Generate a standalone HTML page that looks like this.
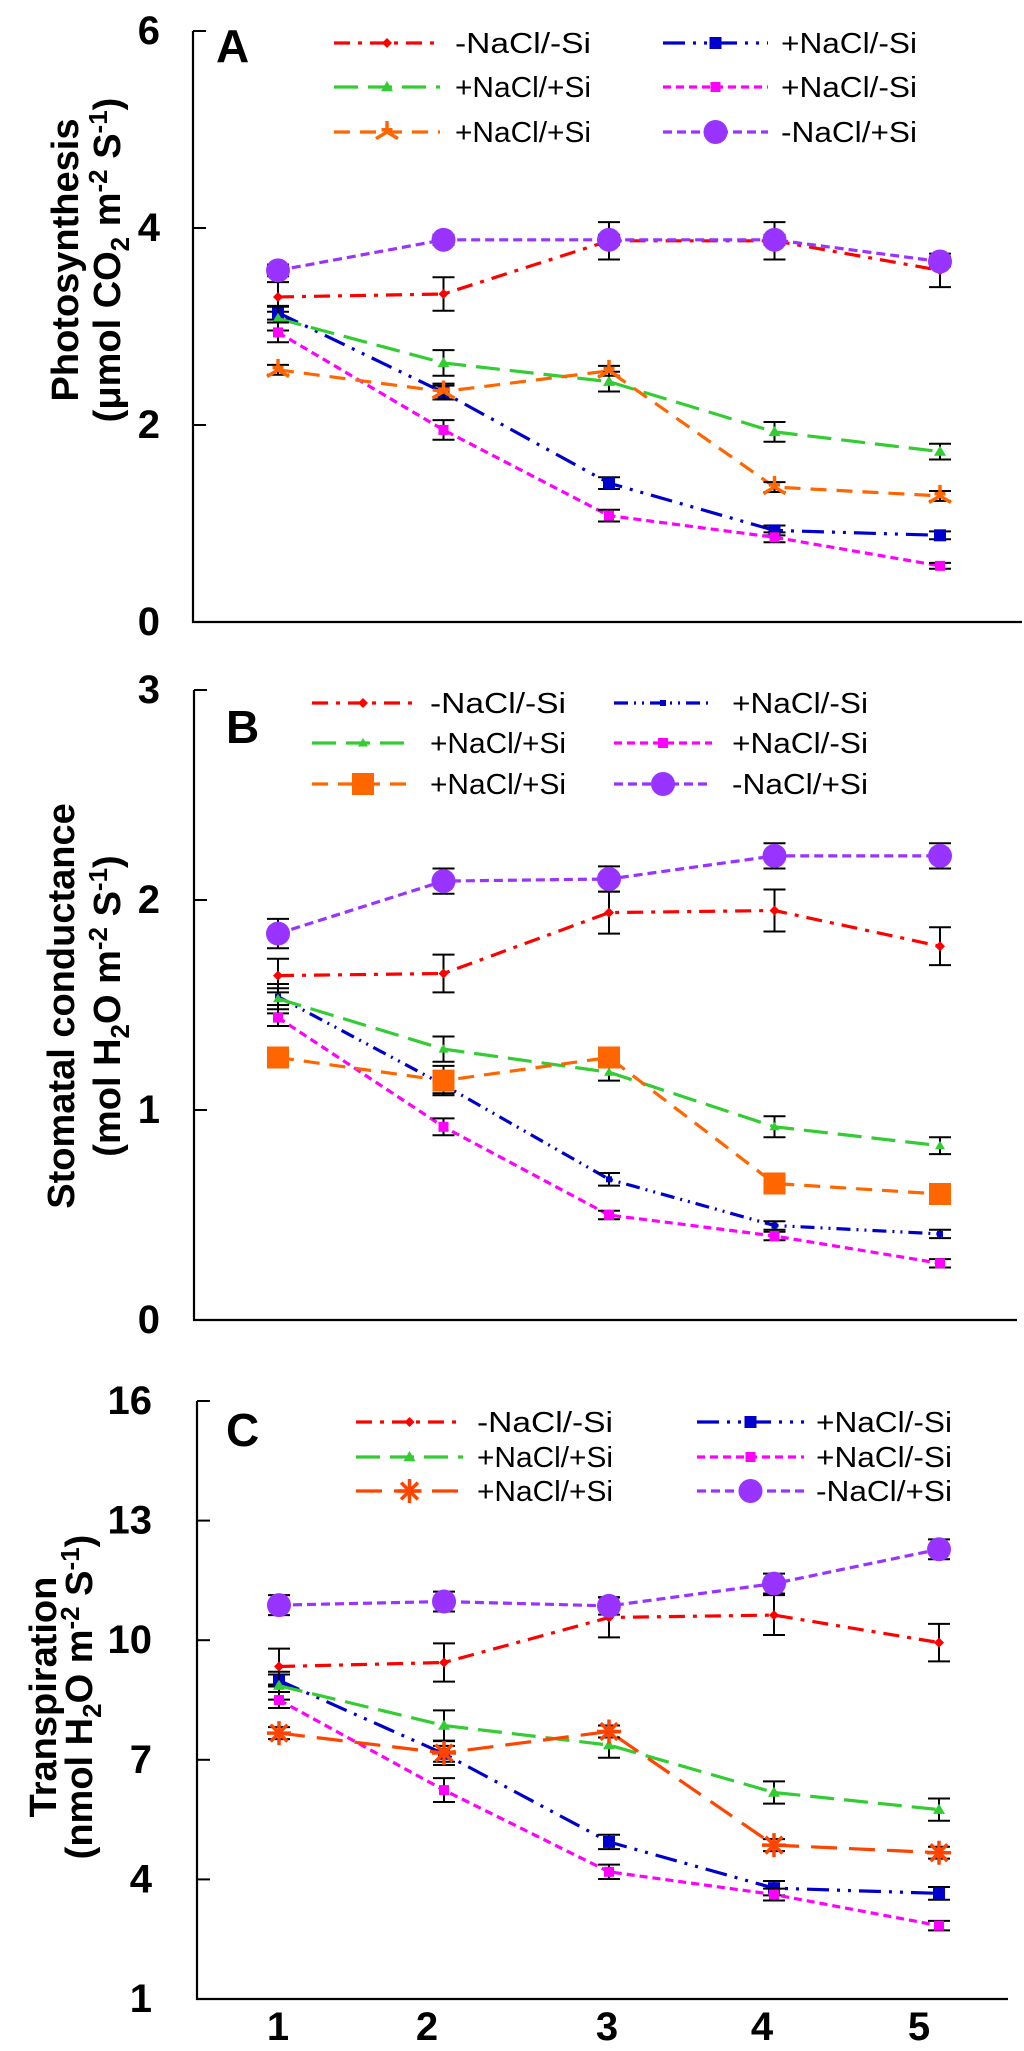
<!DOCTYPE html>
<html><head><meta charset="utf-8"><style>
html,body{margin:0;padding:0;background:#fff}
svg{display:block}
text{font-family:"Liberation Sans",Arial,sans-serif}
</style></head><body>
<svg id="chart" width="1024" height="2051" viewBox="0 0 1024 2051" xmlns="http://www.w3.org/2000/svg"></svg>
<script>
const categories = [1, 2, 3, 4, 5];
const seriesNames = ["-NaCl/-Si", "+NaCl/-Si", "+NaCl/+Si", "+NaCl/-Si", "+NaCl/+Si", "-NaCl/+Si"];
// Panel A: photosynthesis
const aRed = [3.30, 3.33, 3.87, 3.87, 3.57];
const aBlue = [3.14, 2.33, 1.41, 0.93, 0.88];
const aGreen = [3.08, 2.63, 2.44, 1.93, 1.73];
const aMagenta = [2.94, 1.95, 1.08, 0.86, 0.57];
const aOrange = [2.56, 2.34, 2.55, 1.37, 1.28];
const aPurple = [3.57, 3.88, 3.88, 3.88, 3.66];
const aErrRed = [0.15, 0.17, 0.19, 0.19, 0.17];
const aErrBlue = [0.07, 0.07, 0.06, 0.05, 0.04];
const aErrGreen = [0.12, 0.13, 0.10, 0.10, 0.08];
const aErrMagenta = [0.10, 0.10, 0.06, 0.05, 0.03];
const aErrOrange = [0.05, 0.08, 0.05, 0.05, 0.05];
const aErrPurple = [0.06, 0.05, 0.05, 0.05, 0.05];
const aTicks = [0, 2, 4, 6];
// Panel B: stomatal conductance
const bRed = [1.64, 1.65, 1.94, 1.95, 1.78];
const bBlue = [1.54, 1.12, 0.67, 0.45, 0.41];
const bGreen = [1.53, 1.29, 1.18, 0.92, 0.83];
const bMagenta = [1.44, 0.92, 0.50, 0.40, 0.27];
const bOrange = [1.25, 1.14, 1.25, 0.65, 0.60];
const bPurple = [1.84, 2.09, 2.10, 2.21, 2.21];
const bErrRed = [0.08, 0.09, 0.10, 0.10, 0.09];
const bErrBlue = [0.04, 0.04, 0.03, 0.02, 0.02];
const bErrGreen = [0.07, 0.06, 0.04, 0.05, 0.04];
const bErrMagenta = [0.04, 0.04, 0.02, 0.02, 0.02];
const bErrOrange = [0.03, 0.07, 0.03, 0.03, 0.03];
const bErrPurple = [0.07, 0.06, 0.06, 0.06, 0.06];
const bTicks = [0, 1, 2, 3];
// Panel C: transpiration
const cRed = [9.34, 9.44, 10.57, 10.63, 9.94];
const cBlue = [8.99, 7.15, 4.94, 3.78, 3.65];
const cGreen = [8.86, 7.86, 7.37, 6.18, 5.75];
const cMagenta = [8.50, 6.24, 4.19, 3.62, 2.84];
const cOrange = [7.67, 7.17, 7.71, 4.86, 4.67];
const cPurple = [10.88, 10.97, 10.86, 11.42, 12.28];
const cErrRed = [0.45, 0.48, 0.50, 0.50, 0.47];
const cErrBlue = [0.15, 0.20, 0.18, 0.18, 0.16];
const cErrGreen = [0.35, 0.38, 0.32, 0.28, 0.28];
const cErrMagenta = [0.2, 0.3, 0.18, 0.15, 0.12];
const cErrOrange = [0.15, 0.3, 0.15, 0.15, 0.15];
const cErrPurple = [0.25, 0.25, 0.22, 0.25, 0.25];
const cTicks = [1, 4, 7, 10, 13, 16];

const NS = "http://www.w3.org/2000/svg";
const svg = document.getElementById("chart");
function mk(tag, attrs, parent) {
  const e = document.createElementNS(NS, tag);
  for (const k in attrs) e.setAttribute(k, attrs[k]);
  (parent || svg).appendChild(e);
  return e;
}
const styles = [
  {color:"#ff0000", dash:"16 8 4 8", marker:"diamond", ms:5},
  {color:"#0000cc", dash:"22 8 3 8 3 8", marker:"square", ms:6},
  {color:"#33cc33", dash:"24 10", marker:"triangle", ms:6},
  {color:"#ff00ff", dash:"8 5", marker:"x", ms:5},
  {color:"#ff6600", dash:"16 10", marker:"star", ms:10},
  {color:"#9933ff", dash:"9 5", marker:"circle", ms:10}
];
function marker(g, type, cx, cy, s, color) {
  if (type === "circle") { const c = mk("circle", {cx, cy, r:s, fill:color}, g); return c; }
  if (type === "square") return mk("rect", {x:cx-s, y:cy-s, width:2*s, height:2*s, fill:color}, g);
  if (type === "bigsquare") return mk("rect", {x:cx-s, y:cy-s, width:2*s, height:2*s, fill:color}, g);
  if (type === "diamond") return mk("polygon", {points:`${cx},${cy-s} ${cx+s},${cy} ${cx},${cy+s} ${cx-s},${cy}`, fill:color}, g);
  if (type === "triangle") return mk("polygon", {points:`${cx},${cy-s} ${cx+s},${cy+s*0.7} ${cx-s},${cy+s*0.7}`, fill:color}, g);
  if (type === "x") return mk("rect", {x:cx-s, y:cy-s, width:2*s, height:2*s, fill:color}, g);
  if (type === "star") return mk("path", {d:`M${cx} ${cy-s}L${cx} ${cy}M${cx} ${cy}L${cx-s} ${cy+s*0.6}M${cx} ${cy}L${cx+s} ${cy+s*0.6}M${cx-s*0.5} ${cy-s*0.2}L${cx+s*0.5} ${cy-s*0.2}`, stroke:color, "stroke-width":3.5, fill:"none"}, g);
  if (type === "asterisk") return mk("path", {d:`M${cx-s} ${cy}L${cx+s} ${cy}M${cx-s*0.7} ${cy-s*0.7}L${cx+s*0.7} ${cy+s*0.7}M${cx+s*0.7} ${cy-s*0.7}L${cx-s*0.7} ${cy+s*0.7}M${cx} ${cy-s}L${cx} ${cy+s}`, stroke:color, "stroke-width":3.5, fill:"none"}, g);
}

function panel(cfg) {
  const g = mk("g", {});
  
  
  const xScale = c => cfg.x1 + (c - 1) * cfg.dx;
  const yScale = v => cfg.y0 + (v - cfg.vmin) / (cfg.vmax - cfg.vmin) * (cfg.ytop - cfg.y0);
  const ax = mk("path", {d:`M${cfg.ax} ${cfg.ytop}V${cfg.y0}H${cfg.xr}`, stroke:"#000", "stroke-width":2.2, fill:"none"}, g);
  
  
  cfg.ticks.forEach(t => {
    const y = yScale(t);
    const tk = mk("line", {x1:cfg.ax, x2:cfg.ax+13, y1:y, y2:y, stroke:"#000", "stroke-width":2}, g);
    
    
    const tl = mk("text", {x:cfg.tlx, y:y+13, "text-anchor":"end", "font-size":40, "font-weight":"bold"}, g);
    tl.textContent = t;
    
    
  });
  if (cfg.xlabels) {
    cfg.xlabelX.forEach((x, i) => {
      const t = mk("text", {x, y:2040, "text-anchor":"middle", "font-size":40, "font-weight":"bold"}, g);
      t.textContent = categories[i];
      
      
    });
  }
  const L = mk("text", {x:cfg.lx, y:cfg.ly, "font-size":46, "font-weight":"bold"}, g);
  L.textContent = cfg.letter;
  
  
  const yt = mk("text", {transform:`translate(${cfg.t1x},${cfg.tcy}) rotate(-90)`, "text-anchor":"middle", "font-size":cfg.tfs, "font-weight":"bold"}, g);
  yt.textContent = cfg.title1;
  
  
  const yt2 = mk("text", {transform:`translate(${cfg.t2x},${cfg.tcy}) rotate(-90)`, "text-anchor":"middle", "font-size":cfg.tfs, "font-weight":"bold"}, g);
  yt2.innerHTML = cfg.title2;
  
  
  cfg.series.forEach((vals, si) => {
    const st = Object.assign({}, styles[si], (cfg.override && cfg.override[si]) || {});
    const mt = cfg.markers[si];
    const sg = mk("g", {}, g);
    
    
    const d = vals.map((v, i) => (i ? "L" : "M") + xScale(categories[i]) + " " + yScale(v)).join("");
    const ln = mk("path", {d, stroke:st.color, "stroke-width":3.2, fill:"none", "stroke-dasharray":st.dash}, sg);
    
    
    vals.forEach((v, i) => {
      const x = xScale(categories[i]);
      const e = cfg.errs[si][i];
      const yh = yScale(v + e), yl = yScale(v - e);
      const eb = mk("path", {d:`M${x} ${yh}V${yl}M${x-11} ${yh}H${x+11}M${x-11} ${yl}H${x+11}`, stroke:"#000", "stroke-width":2, fill:"none"}, sg);
      
      
    });
    vals.forEach((v, i) => {
      const m = marker(sg, mt, xScale(categories[i]), yScale(v), cfg.msz[si], st.color);
      
      
    });
  });
  const order = [[0,0,0],[1,1,0],[2,0,1],[3,1,1],[4,0,2],[5,1,2]];
  order.forEach(([si, col, row]) => {
    const st = Object.assign({}, styles[si], (cfg.override && cfg.override[si]) || {});
    const lx1 = col ? cfg.lg.rx1 : cfg.lg.lx1, lx2 = col ? cfg.lg.rx2 : cfg.lg.lx2;
    const tx = col ? cfg.lg.rtx : cfg.lg.ltx;
    const y = cfg.lg.rows[row];
    const lg = mk("g", {}, g);
    
    
    mk("line", {x1:lx1, x2:lx2, y1:y, y2:y, stroke:st.color, "stroke-width":3.2, "stroke-dasharray":st.dash}, lg);
    marker(lg, cfg.markers[si], (lx1+lx2)/2, y, cfg.msz[si], st.color);
    const t = mk("text", {x:tx, y:y+10, "font-size":29, textLength:136, lengthAdjust:"spacingAndGlyphs"}, lg);
    t.textContent = seriesNames[si];
  });
}

panel({name:"panel-a-photosynthesis", letter:"A", ax:193, xr:1022, ytop:31, y0:622, vmin:0, vmax:6, ticks:aTicks, tlx:160,
  x1:278, dx:165.5, lx:216, ly:62, t1x:78, t2x:120, tcy:260, tfs:38,
  title1:"Photosynthesis", title2:'(μmol CO<tspan dy="9" font-size="26">2</tspan><tspan dy="-9"> m</tspan><tspan dy="-13" font-size="26">-2</tspan><tspan dy="13"> S</tspan><tspan dy="-13" font-size="26">-1</tspan><tspan dy="13">)</tspan>',
  series:[aRed,aBlue,aGreen,aMagenta,aOrange,aPurple], errs:[aErrRed,aErrBlue,aErrGreen,aErrMagenta,aErrOrange,aErrPurple],
  markers:["diamond","square","triangle","x","star","circle"], msz:[5,6,6,5,11,12],
  lg:{lx1:334,lx2:440,ltx:455,rx1:663,rx2:768,rtx:781,rows:[43,87,132]}});
panel({name:"panel-b-stomatal-conductance", letter:"B", ax:194, xr:1017, ytop:690, y0:1320, vmin:0, vmax:3, ticks:bTicks, tlx:160,
  x1:278, dx:165.5, lx:226, ly:743, t1x:74, t2x:120, tcy:1006, tfs:38,
  title1:"Stomatal conductance", title2:'(mol H<tspan dy="9" font-size="26">2</tspan><tspan dy="-9">O m</tspan><tspan dy="-13" font-size="26">-2</tspan><tspan dy="13"> S</tspan><tspan dy="-13" font-size="26">-1</tspan><tspan dy="13">)</tspan>',
  series:[bRed,bBlue,bGreen,bMagenta,bOrange,bPurple], errs:[bErrRed,bErrBlue,bErrGreen,bErrMagenta,bErrOrange,bErrPurple],
  markers:["diamond","square","triangle","x","bigsquare","circle"], msz:[5,3,5,5,11,12],
  override:{1:{dash:"14 6 2 6 2 6"}},
  lg:{lx1:312,lx2:414,ltx:430,rx1:614,rx2:712,rtx:732,rows:[703,743,784]}});
panel({name:"panel-c-transpiration", letter:"C", ax:197, xr:1008, ytop:1401, y0:1999, vmin:1, vmax:16, ticks:cTicks, tlx:152,
  x1:279, dx:165, lx:226, ly:1446, t1x:56, t2x:92, tcy:1697, tfs:38, xlabels:true, xlabelX:[278,427,607,762,919],
  title1:"Transpiration", title2:'(nmol H<tspan dy="9" font-size="26">2</tspan><tspan dy="-9">O m</tspan><tspan dy="-13" font-size="26">-2</tspan><tspan dy="13"> S</tspan><tspan dy="-13" font-size="26">-1</tspan><tspan dy="13">)</tspan>',
  series:[cRed,cBlue,cGreen,cMagenta,cOrange,cPurple], errs:[cErrRed,cErrBlue,cErrGreen,cErrMagenta,cErrOrange,cErrPurple],
  markers:["diamond","square","triangle","x","asterisk","circle"], msz:[5,6,6,5,12,12],
  override:{4:{color:"#ff4400", dash:"26 12"}},
  lg:{lx1:356,lx2:463,ltx:477,rx1:697,rx2:804,rtx:816,rows:[1422,1457,1491]}});
</script>
</body></html>
